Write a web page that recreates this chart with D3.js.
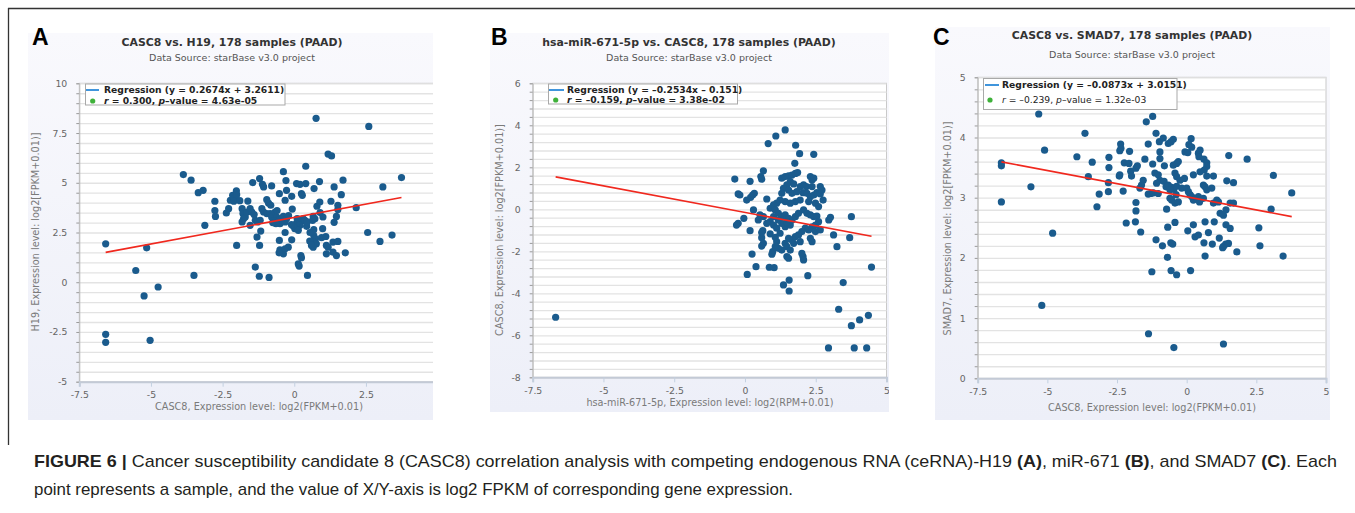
<!DOCTYPE html>
<html>
<head>
<meta charset="utf-8">
<script src="https://cdn.jsdelivr.net/npm/d3@7"></script>
<style>
  body { margin: 0; background: #fff; }
  svg { display: block; }
  .chart text { font-family: "DejaVu Sans", Verdana, sans-serif; }
</style>
</head>
<body>
<div id="figure"></div>
<script>
// ---- data ----
var pointsA = [
  [-6.58,1.93],[-6.58,-2.62],[-6.58,-3.02],[-5.53,0.59],[-5.15,1.73],[-5.24,-0.69],[-4.75,-0.24],[-5.03,-2.92],
  [-3.87,5.41],[-3.60,5.13],[-3.35,4.50],[-3.18,4.62],[-3.12,2.86],[-3.50,0.34],[-2.77,4.07],[-2.77,3.60],
  [-2.75,3.31],[-2.37,3.48],[-2.29,3.70],[-2.23,4.12],[-2.15,4.37],[-2.09,4.20],[-2.02,4.59],[-2.01,4.40],
  [-2.11,4.07],[-2.01,1.85],[-1.82,3.70],[-1.79,3.45],[-1.77,3.19],[-1.82,3.03],[-1.71,3.28],[-1.65,3.53],
  [-1.62,4.08],[-1.54,3.70],[-1.48,3.53],[-1.54,2.86],[-1.45,5.01],[-1.21,5.21],[-1.11,4.92],[-1.07,4.79],
  [-0.79,4.84],[-0.96,4.15],[-0.90,3.98],[-0.82,3.87],[-1.36,3.11],[-1.28,3.03],[-1.19,3.11],[-1.13,3.70],
  [-1.07,3.53],[-0.96,3.45],[-0.84,3.45],[-0.79,3.28],[-0.67,3.53],[-0.61,3.28],[-0.55,3.11],[-0.50,2.94],
  [-0.44,3.11],[-0.38,3.31],[-0.32,3.03],[-0.27,3.19],[-0.70,3.08],[-0.64,2.94],[-0.52,4.45],[-0.38,5.56],
  [-0.29,5.11],[-0.27,4.62],[-0.32,4.12],[-0.09,4.32],[-0.07,3.68],[0.08,4.96],[0.20,4.92],[0.25,4.45],
  [0.28,4.37],[0.40,4.96],[0.40,5.83],[0.25,3.06],[0.20,2.86],[0.08,2.97],[-0.03,2.81],[0.02,2.69],
  [0.14,2.61],[0.31,3.19],[0.37,3.11],[0.43,2.81],[0.45,3.03],[0.66,3.31],[0.72,3.19],[0.64,3.11],
  [0.79,3.82],[0.89,4.03],[1.00,3.28],[0.99,2.69],[0.68,2.64],[0.68,2.35],[0.74,2.18],[0.68,2.02],
  [0.66,1.76],[0.77,1.93],[1.18,6.44],[1.30,6.35],[0.88,5.06],[0.69,4.71],[1.39,4.79],[1.70,5.13],
  [1.64,4.40],[1.28,4.07],[1.52,3.87],[1.52,3.66],[1.47,3.31],[1.39,3.01],[2.16,3.75],[3.09,4.79],
  [3.74,5.26],[2.56,2.50],[2.99,2.05],[3.41,2.37],[1.35,2.02],[1.52,2.05],[1.12,1.85],[1.18,1.76],
  [1.35,1.51],[1.47,1.34],[1.78,1.48],[1.12,1.43],[0.95,2.24],[0.54,2.07],[0.60,1.85],[0.23,1.34],
  [0.25,1.23],[0.14,0.92],[0.17,0.81],[0.46,0.34],[-0.21,1.76],[-0.09,2.13],[-0.52,2.10],[-0.32,2.50],
  [-0.50,1.63],[-0.44,1.55],[-0.38,1.43],[-0.53,1.48],[-0.32,1.68],[-1.30,2.27],[-1.21,1.85],[-1.17,2.57],
  [-1.36,0.76],[-1.22,0.30],[-0.88,0.24],[2.60,7.83],[0.76,8.24],[-0.60,3.60],[-0.20,3.35],[0.10,3.20],
  [-1.40,3.40],[-1.90,4.10],[0.55,2.50],[1.10,2.30],[-0.10,2.90],[0.90,3.50],[-0.75,3.00]
];

var pointsB = [
  [-6.69,-5.14],[3.31,-4.76],[3.76,-5.54],[4.05,-5.27],[4.36,-5.05],[2.95,-6.60],[3.86,-6.60],[4.30,-6.60],
  [1.42,3.78],[1.09,3.49],[0.82,3.13],[1.79,3.05],[1.93,2.65],[2.43,2.62],[1.76,2.19],[0.65,1.83],
  [0.56,1.56],[0.59,1.43],[-0.36,1.44],[0.18,1.33],[-0.24,0.73],[-0.18,0.68],[0.06,0.44],[0.27,0.68],
  [0.33,0.76],[0.20,0.57],[0.77,0.49],[0.30,-0.03],[-0.04,-0.43],[-0.24,-0.67],[-0.30,-0.75],[0.18,-1.02],
  [0.63,-1.02],[0.59,-1.35],[0.59,-1.11],[0.89,-1.17],[1.07,-1.33],[0.65,-1.62],[0.59,-1.75],[0.25,-2.13],
  [0.98,-2.02],[0.95,-2.14],[0.39,-2.73],[0.86,-2.76],[1.03,-2.78],[0.08,-3.10],[1.36,-3.60],[1.56,-3.37],
  [1.56,-3.89],[2.22,-3.16],[3.25,-1.78],[3.13,-1.22],[3.70,-1.35],[3.76,-0.35],[2.96,-0.51],[3.02,-0.38],
  [3.47,-3.49],[4.47,-2.75],
  [1.30,1.48],[1.42,1.56],[1.54,1.59],[1.66,1.63],[1.78,1.71],[1.86,1.75],[1.60,1.32],[1.72,1.21],
  [1.48,1.16],[1.36,1.00],[1.30,0.76],[1.54,0.92],[1.66,0.76],[1.83,0.84],[1.95,1.08],[2.07,1.16],
  [2.17,1.08],[2.31,1.56],[2.37,1.40],[2.43,1.48],[2.05,0.79],[2.19,0.76],[2.31,0.60],[2.43,0.68],
  [2.54,0.79],[2.66,0.73],[2.76,0.44],[2.25,0.37],[2.49,0.29],[2.60,0.13],[1.95,0.44],[1.78,0.37],
  [1.60,0.29],[1.42,0.37],[1.24,0.44],[1.12,0.29],[1.01,0.21],[0.89,0.05],[1.07,-0.03],[1.18,-0.19],
  [1.30,-0.35],[1.42,-0.27],[1.54,-0.43],[1.66,-0.51],[1.78,-0.35],[1.89,-0.19],[2.07,-0.03],[2.19,-0.19],
  [2.31,-0.27],[2.43,-0.35],[2.54,-0.32],[2.60,-0.59],[2.49,-0.75],[2.37,-0.83],[2.25,-0.98],[2.13,-0.90],
  [2.01,-1.06],[1.89,-1.22],[1.95,-1.54],[1.78,-1.30],[1.66,-1.46],[1.54,-1.38],[1.42,-1.62],[1.48,-1.78],
  [1.60,-1.94],[1.48,-2.25],[1.54,-2.33],[1.30,-1.94],[1.18,-1.86],[1.07,-1.78],[1.12,-1.54],[1.24,-1.14],
  [1.42,-0.83],[1.60,-0.75],[1.30,-0.67],[1.48,-0.59],[1.18,-0.51],[1.01,-0.35],[0.89,-0.59],[0.77,-0.67],
  [0.65,-0.35],[0.53,-0.27],[0.47,-0.51],[2.31,-1.38],[2.37,-1.54],[2.49,-1.06],[2.66,-0.98],[2.05,-2.25],
  [2.07,-2.41],[2.01,-2.10],[1.72,-1.62],[2.66,1.08],[2.72,0.92],[2.37,1.08],[1.01,-0.75],[1.12,-0.90]
];

var pointsC = [
  [-6.65,3.58],[-6.65,3.53],[-6.65,2.93],[-5.31,4.39],[-5.10,3.79],[-5.59,3.18],[-4.81,2.41],[-5.20,1.21],
  [-3.65,4.07],[-3.94,3.68],[-3.53,3.35],[-3.39,3.59],[-3.14,3.06],[-3.22,2.85],[-1.37,0.74],[-0.46,0.51],
  [1.32,0.57],[2.17,3.64],[3.11,3.37],[3.77,3.08],[3.03,2.81],[2.59,2.50],[2.63,2.20],[3.46,2.03],
  [1.80,2.10],[1.51,3.70],
  [-2.79,3.67],[-2.79,3.50],[-2.81,3.25],[-2.81,3.10],[-2.37,3.89],[-2.40,3.78],[-2.28,3.11],[-2.17,2.58],
  [-2.05,3.77],[-2.24,3.58],[-2.07,3.57],[-2.01,3.44],[-1.98,3.36],[-1.82,3.49],[-1.77,3.53],[-2.42,3.36],
  [-1.82,2.92],[-1.82,2.78],[-1.84,2.60],[-1.65,2.43],[-1.50,3.64],[-1.45,4.26],[-1.22,4.35],[-1.10,4.07],
  [-1.38,3.89],[-0.98,3.93],[-0.84,3.99],[-0.66,3.90],[-0.56,3.93],[-0.48,3.97],[-0.96,3.76],[-0.96,3.65],
  [-1.22,3.56],[-0.80,3.53],[-1.56,3.29],[-1.62,3.21],[-1.68,3.16],[-1.38,3.06],[-1.29,3.07],[-1.20,3.08],
  [-1.02,3.07],[-2.36,3.82],[-2.40,3.38],
  [-1.14,3.41],[-1.02,3.38],[-0.96,3.29],[-0.81,3.27],[-1.08,3.24],[-0.74,3.18],[-0.66,3.21],[-0.54,3.17],
  [-0.46,3.14],[-0.60,3.13],[-0.36,3.19],[-0.48,3.54],[-0.36,3.57],[-0.30,3.60],[-0.42,3.41],[-0.36,3.35],
  [-0.24,3.29],[-0.18,3.16],[-0.38,3.05],[-0.60,2.99],[-0.54,2.96],[-0.42,2.91],[-0.30,2.93],[-0.08,3.32],
  [0.00,3.16],[0.06,3.10],[0.12,3.05],[0.18,3.02],[0.24,2.96],[0.36,2.99],[0.42,3.02],[0.16,3.98],
  [0.08,3.88],[0.18,3.84],[-0.06,3.76],[0.04,3.75],[0.42,3.74],[0.48,3.79],[0.44,3.68],[0.62,3.64],
  [0.72,3.58],[0.72,3.52],[0.63,3.46],[0.48,3.43],[0.24,3.38],[0.72,3.36],[0.96,3.36],[0.60,3.21],
  [0.66,3.18],[0.90,3.16],[0.72,3.13],[0.60,2.99],[0.46,2.93],[0.96,2.91],[1.08,2.96],[1.14,2.93],
  [1.20,2.74],[1.32,2.71],[1.41,2.80],[1.56,2.91],[1.68,2.91],[1.44,3.28],[1.68,3.25],
  [-0.72,2.81],[-0.42,2.59],[-0.68,2.51],[-0.57,2.25],[-0.50,2.23],[-0.87,2.20],[-1.10,2.30],[-0.69,2.01],
  [-1.25,1.77],[-0.56,1.79],[-0.36,1.72],[0.14,1.79],[0.24,2.55],[0.04,2.45],[0.30,2.35],[0.42,2.38],
  [0.66,2.60],[0.78,2.42],[0.99,2.60],[0.62,2.25],[0.92,2.23],[0.66,2.03],[1.17,2.33],[1.32,2.19],
  [1.40,2.23],[1.50,2.24],[1.29,2.17],[1.41,2.55],[1.56,2.49]
];

// regression: [slope, intercept]
var fitA = [0.2674, 3.2611];
var fitB = [-0.2534, -0.151];
var fitC = [-0.0873, 3.0151];

var xTicks = [-7.5, -5, -2.5, 0, 2.5, 5];
var xTickLabels = ["-7.5", "-5", "-2.5", "0", "2.5", "5"];
var yTicksA = [-5, -2.5, 0, 2.5, 5, 7.5, 10];
var yTickLabelsA = ["-5", "-2.5", "0", "2.5", "5", "7.5", "10"];
var yTicksB = [-8, -6, -4, -2, 0, 2, 4, 6];
var yTickLabelsB = ["-8", "-6", "-4", "-2", "0", "2", "4", "6"];
var yTicksC = [0, 1, 2, 3, 4, 5];
var yTickLabelsC = ["0", "1", "2", "3", "4", "5"];

var titles = ["CASC8 vs. H19, 178 samples (PAAD)",
              "hsa-miR-671-5p vs. CASC8, 178 samples (PAAD)",
              "CASC8 vs. SMAD7, 178 samples (PAAD)"];
var subtitle = "Data Source: starBase v3.0 project";
var xTitles = ["CASC8, Expression level: log2(FPKM+0.01)",
               "hsa-miR-671-5p, Expression level: log2(RPM+0.01)",
               "CASC8, Expression level: log2(FPKM+0.01)"];
var yTitles = ["H19, Expression level: log2[FPKM+0.01)]",
               "CASC8, Expression level: log2[FPKM+0.01)]",
               "SMAD7, Expression level: log2[FPKM+0.01)]"];
var regressionTexts = ["Regression (y = 0.2674x + 3.2611)",
                       "Regression (y = \u20130.2534x \u2013 0.151)",
                       "Regression (y = \u20130.0873x + 3.0151)"];
var rValues = ["0.300", "\u20130.159", "\u20130.239"];
var pValues = ["4.63e-05", "3.38e-02", "1.32e-03"];

// ---- layout ----
var W = 1355, H = 513;
var svg = d3.select("#figure").append("svg")
  .attr("width", W).attr("height", H)
  .attr("class", "chart");

var defs = svg.append("defs");
var grad = defs.append("linearGradient").attr("id", "bgGrad")
  .attr("x1", 0).attr("y1", 0).attr("x2", 0).attr("y2", 1);
grad.append("stop").attr("offset", "0%").attr("stop-color", "#f9f9fd");
grad.append("stop").attr("offset", "100%").attr("stop-color", "#edeff8");

// outer frame (top and left edges visible)
svg.append("line").attr("x1", 8).attr("y1", 8.5).attr("x2", W).attr("y2", 8.5)
  .attr("stroke", "#333").attr("stroke-width", 1.3);
svg.append("line").attr("x1", 8.5).attr("y1", 8).attr("x2", 8.5).attr("y2", 445)
  .attr("stroke", "#333").attr("stroke-width", 1.3);

var panels = [
  { letter: "A", pts: pointsA, fit: fitA, yTicks: yTicksA, yLabels: yTickLabelsA, yDomain: [-5, 10], minor: 0.5,
    bg: [28, 33, 433, 420], xr: [79.3, 437.6], yr: [381.7, 83.3],
    letterPos: [32, 45], titleX: 232, titleY: 45.5, subY: 60.5,
    yTitlePos: [39, 232], xTitlePos: [259, 410],
    leg: { x: 85.5, y: 84, w: 199.5, h: 21, l0: 86, l1: 99, tx: 104, b1: 93.3, b2: 104, dot: 92.7, dotY: 101, bold2: true } },
  { letter: "B", pts: pointsB, fit: fitB, yTicks: yTicksB, yLabels: yTickLabelsB, yDomain: [-8, 6], minor: 0.4,
    bg: [490, 33, 889, 412], xr: [532.7, 886.5], yr: [377.3, 83.3],
    letterPos: [491, 45], titleX: 689, titleY: 45.5, subY: 61,
    yTitlePos: [503, 230], xTitlePos: [710, 405.5],
    leg: { x: 548.5, y: 84, w: 189, h: 20, l0: 549, l1: 564, tx: 567, b1: 93.3, b2: 103, dot: 555.7, dotY: 100, bold2: true } },
  { letter: "C", pts: pointsC, fit: fitC, yTicks: yTicksC, yLabels: yTickLabelsC, yDomain: [0, 5], minor: 0.2,
    bg: [935, 27, 1330, 420], xr: [977.7, 1326], yr: [378.3, 77.3],
    letterPos: [933, 45], titleX: 1132, titleY: 39, subY: 58,
    yTitlePos: [951, 228.5], xTitlePos: [1152, 411],
    leg: { x: 983.5, y: 78.5, w: 193.5, h: 31, l0: 985, l1: 999, tx: 1002, b1: 88.3, b2: 103.3, dot: 990, dotY: 100, bold2: false } }
];

panels.forEach(function(p, i) {
  var g = svg.append("g");
  var clipId = "clip" + p.letter;
  defs.append("clipPath").attr("id", clipId).append("rect")
    .attr("x", p.bg[0]).attr("y", p.bg[1])
    .attr("width", p.bg[2] - p.bg[0]).attr("height", p.bg[3] - p.bg[1]);

  var panel = g.append("g").attr("clip-path", "url(#" + clipId + ")");

  // chart background
  panel.append("rect")
    .attr("x", p.bg[0]).attr("y", p.bg[1])
    .attr("width", p.bg[2] - p.bg[0]).attr("height", p.bg[3] - p.bg[1])
    .attr("fill", "url(#bgGrad)");

  var x = d3.scaleLinear().domain([-7.5, 5]).range(p.xr);
  var y = d3.scaleLinear().domain(p.yDomain).range(p.yr);
  var pw = p.xr[1] - p.xr[0], ph = p.yr[0] - p.yr[1];

  // plot area
  panel.append("rect")
    .attr("x", p.xr[0]).attr("y", p.yr[1]).attr("width", pw).attr("height", ph)
    .attr("fill", "#fff").attr("stroke", "#c9c9c9").attr("stroke-width", 1);

  // horizontal grid lines at every minor step
  var minorTicks = d3.range(p.yDomain[0], p.yDomain[1] + p.minor / 2, p.minor);
  var grid = panel.append("g")
    .attr("transform", "translate(" + p.xr[0] + ",0)")
    .call(d3.axisLeft(y).tickValues(minorTicks).tickSize(-pw).tickFormat(""));
  grid.select(".domain").remove();
  grid.selectAll("line").attr("stroke", "#e3e3e3").attr("stroke-width", 1.3);

  // y axis: minor ticks
  var yMinor = panel.append("g")
    .attr("transform", "translate(" + p.xr[0] + ",0)")
    .call(d3.axisLeft(y).tickValues(minorTicks).tickSize(3).tickFormat(""));
  yMinor.select(".domain").attr("stroke", "#bdbdbd");
  yMinor.selectAll("line").attr("stroke", "#9a9a9a");

  // y axis labels
  var yAx = panel.append("g")
    .attr("transform", "translate(" + p.xr[0] + ",0)")
    .call(d3.axisLeft(y).tickValues(p.yTicks).tickSize(0).tickPadding(12)
      .tickFormat(function(d, k) { return p.yLabels[k]; }));
  yAx.select(".domain").remove();
  yAx.selectAll("text").attr("fill", "#666").style("font-size", "9.3px")
    .style("font-family", "DejaVu Sans, Verdana, sans-serif");

  // x axis
  var xAx = panel.append("g")
    .attr("transform", "translate(0," + p.yr[0] + ")")
    .call(d3.axisBottom(x).tickValues(xTicks).tickSize(5).tickPadding(5)
      .tickFormat(function(d, k) { return xTickLabels[k]; }));
  xAx.select(".domain").attr("stroke", "#c3cad6").attr("stroke-width", 2);
  xAx.selectAll("line").attr("stroke", "#c3d0e0");
  xAx.selectAll("text").attr("fill", "#666").style("font-size", "9.3px")
    .style("font-family", "DejaVu Sans, Verdana, sans-serif");

  // points
  panel.append("g").selectAll("circle")
    .data(p.pts).enter().append("circle")
    .attr("cx", function(d) { return x(d[0]); })
    .attr("cy", function(d) { return y(d[1]); })
    .attr("r", 3.6)
    .attr("fill", "#1a5b8d");

  // regression line over the x extent of the samples
  var ext = d3.extent(p.pts, function(d) { return d[0]; });
  var line = d3.line().x(function(d) { return x(d); }).y(function(d) { return y(p.fit[0] * d + p.fit[1]); });
  panel.append("path").datum(ext)
    .attr("d", line).attr("fill", "none")
    .attr("stroke", "#f0281e").attr("stroke-width", 1.6);

  // legend
  var L = p.leg;
  var leg = panel.append("g");
  leg.append("rect").attr("x", L.x).attr("y", L.y).attr("width", L.w).attr("height", L.h)
    .attr("fill", "#fff").attr("stroke", "#a9a9a9").attr("stroke-width", 1);
  leg.append("line").attr("x1", L.l0).attr("x2", L.l1)
    .attr("y1", L.b1 - 3.3).attr("y2", L.b1 - 3.3)
    .attr("stroke", "#2b8ad8").attr("stroke-width", 1.8);
  leg.append("text").attr("x", L.tx).attr("y", L.b1)
    .style("font-size", "9.2px").style("font-weight", "bold").attr("fill", "#222")
    .text(regressionTexts[i]);
  leg.append("circle").attr("cx", L.dot).attr("cy", L.dotY).attr("r", 2.6).attr("fill", "#3fb13a");
  var t2 = leg.append("text").attr("x", L.tx).attr("y", L.b2)
    .style("font-size", "9.2px").style("font-weight", L.bold2 ? "bold" : "normal").attr("fill", "#222");
  t2.append("tspan").style("font-style", "italic").text("r");
  t2.append("tspan").text(" = " + rValues[i] + ", ");
  t2.append("tspan").style("font-style", "italic").text("p");
  t2.append("tspan").text("\u2013value = " + pValues[i]);

  // titles
  panel.append("text").attr("x", p.titleX).attr("y", p.titleY)
    .attr("text-anchor", "middle").style("font-size", "10.9px").style("font-weight", "bold")
    .attr("fill", "#333").text(titles[i]);
  panel.append("text").attr("x", p.titleX).attr("y", p.subY)
    .attr("text-anchor", "middle").style("font-size", "9.5px")
    .attr("fill", "#555").text(subtitle);

  // axis titles
  panel.append("text").attr("x", p.xTitlePos[0]).attr("y", p.xTitlePos[1])
    .attr("text-anchor", "middle").style("font-size", "9.7px")
    .attr("fill", "#7a7a7a").text(xTitles[i]);
  panel.append("text")
    .attr("transform", "translate(" + p.yTitlePos[0] + "," + p.yTitlePos[1] + ") rotate(-90)")
    .attr("text-anchor", "middle").style("font-size", "9.7px")
    .attr("fill", "#7a7a7a").text(yTitles[i]);

  // panel letter
  g.append("text").attr("x", p.letterPos[0]).attr("y", p.letterPos[1])
    .style("font-family", "Liberation Sans, Arial, sans-serif")
    .style("font-size", "23px").style("font-weight", "bold").attr("fill", "#000")
    .text(p.letter);
});

// caption
var capFont = "'Liberation Sans Narrow', 'Liberation Sans', Arial, sans-serif";
var cap1 = svg.append("text")
  .attr("x", 34).attr("y", 467).attr("fill", "#231f20")
  .attr("textLength", 1303).attr("lengthAdjust", "spacingAndGlyphs")
  .style("font-family", capFont).style("font-size", "17px");
cap1.append("tspan").style("font-weight", "bold").text("FIGURE 6 | ");
cap1.append("tspan").text("Cancer susceptibility candidate 8 (CASC8) correlation analysis with competing endogenous RNA (ceRNA)-H19 ");
cap1.append("tspan").style("font-weight", "bold").text("(A)");
cap1.append("tspan").text(", miR-671 ");
cap1.append("tspan").style("font-weight", "bold").text("(B)");
cap1.append("tspan").text(", and SMAD7 ");
cap1.append("tspan").style("font-weight", "bold").text("(C)");
cap1.append("tspan").text(". Each");

var cap2 = svg.append("text")
  .attr("x", 34).attr("y", 495).attr("fill", "#231f20")
  .attr("textLength", 759).attr("lengthAdjust", "spacingAndGlyphs")
  .style("font-family", capFont).style("font-size", "17px");
cap2.append("tspan").text("point represents a sample, and the value of X/Y-axis is log2 FPKM of corresponding gene expression.");
</script>
</body>
</html>
